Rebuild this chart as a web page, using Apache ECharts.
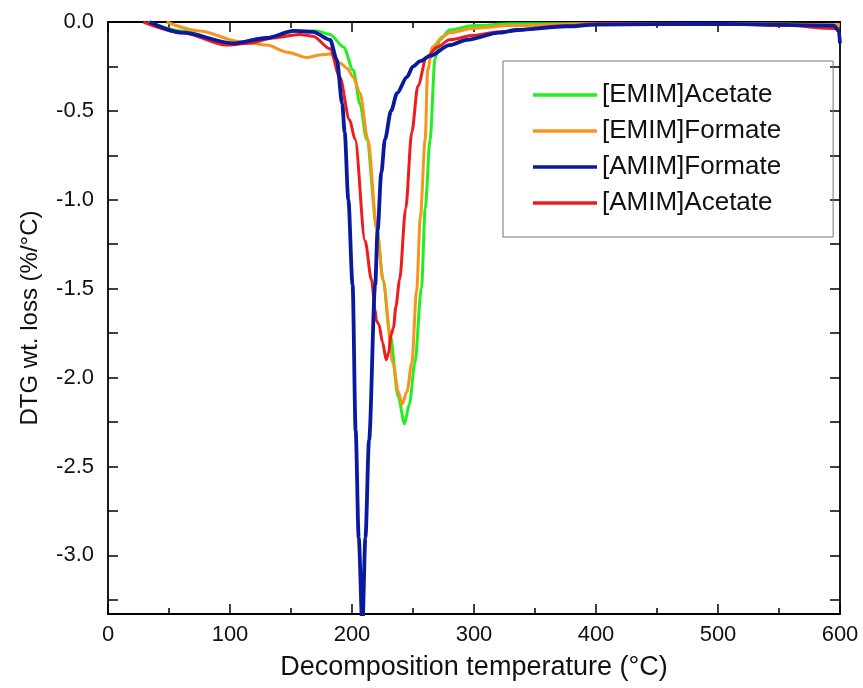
<!DOCTYPE html>
<html lang="en">
<head>
<meta charset="UTF-8">
<title>DTG curves</title>
<script src="https://cdn.jsdelivr.net/npm/echarts@6/dist/echarts.min.js"></script>
<style>
    html, body { margin: 0; padding: 0; background: #fff; }
    #main { width: 863px; height: 688px; }
</style>
</head>
<body>
<div id="main"></div>
<script>
// series names, in legend order
var names = ['[EMIM]Acetate', '[EMIM]Formate', '[AMIM]Formate', '[AMIM]Acetate'];

// [temperature (°C), DTG (%/°C)]
var emimAcetate = [[33,0],[60,-0.05],[100,-0.12],[130,-0.09],[155,-0.05],[171,-0.05],[182,-0.07],[193,-0.14],
    [201,-0.27],[206.5,-0.46],[212,-0.66],[220.5,-1.17],[225.5,-1.45],[231,-1.75],[238,-2.11],[243,-2.26],
    [247,-2.15],[251.5,-1.92],[257,-1.49],[260,-1.05],[264,-0.66],[268,-0.21],[272,-0.10],[280,-0.045],
    [300,-0.02],[330,-0.01],[400,-0.01],[500,-0.01],[590,-0.015],[600,-0.02]];

var emimFormate = [[48,0],[75,-0.05],[108,-0.11],[130,-0.13],[147,-0.17],[163,-0.20],[174,-0.185],[182,-0.18],
    [190,-0.23],[196,-0.26],[201,-0.31],[206.5,-0.40],[213,-0.66],[220.5,-1.17],[225.4,-1.45],[233.6,-1.92],
    [238,-2.08],[241,-2.15],[245,-2.08],[249,-1.92],[253,-1.51],[256,-1.1],[260,-0.66],[262,-0.27],[266,-0.14],
    [275,-0.08],[280,-0.06],[300,-0.035],[330,-0.02],[400,-0.01],[500,-0.01],[600,-0.015]];

var amimFormate = [[34,0],[61,-0.06],[103,-0.12],[130,-0.09],[152,-0.05],[168,-0.055],[182,-0.10],[187.5,-0.21],
    [192,-0.46],[194,-0.62],[197,-1.0],[200.5,-1.48],[203,-2.3],[205.5,-2.9],[208.5,-3.4],[211,-2.9],[214,-2.35],
    [219,-1.48],[221,-1.17],[224,-0.85],[227,-0.66],[232,-0.5],[237,-0.40],[245,-0.31],[250,-0.25],[256,-0.22],
    [264,-0.19],[280,-0.13],[294,-0.10],[321,-0.06],[335,-0.045],[376,-0.025],[400,-0.015],[500,-0.01],
    [595,-0.02],[599,-0.05],[600,-0.12]];

var amimAcetate = [[29,0],[61,-0.06],[97,-0.13],[116,-0.12],[135,-0.09],[157,-0.07],[168,-0.08],[182,-0.15],
    [190,-0.31],[198,-0.55],[202.5,-0.66],[210.7,-1.23],[216,-1.45],[219,-1.62],[220,-1.68],[222,-1.70],
    [225,-1.80],[228,-1.90],[230,-1.86],[232,-1.76],[234,-1.72],[236,-1.6],[239,-1.45],[244,-1.05],[249,-0.62],
    [254,-0.36],[261,-0.20],[270,-0.14],[280,-0.10],[300,-0.075],[321,-0.055],[376,-0.02],[400,-0.01],
    [500,-0.01],[560,-0.02],[590,-0.035],[600,-0.04]];

var colors = ['#22EE22', '#F7941D', '#0A1A9E', '#EE1C1C'];

var font = 'Liberation Sans, Arial, sans-serif';

function yLabel(v) {
    // only every 0.5 gets a label
    if (Math.abs(v * 2 - Math.round(v * 2)) > 1e-6) return '';
    return v.toFixed(1);
}

var myChart = echarts.init(document.getElementById('main'));

function mkSeries(name, data, color, width, z) {
    return {
        name: name,
        type: 'line',
        data: data,
        showSymbol: false,
        symbol: 'none',
        smooth: 0.3,
        smoothMonotone: 'x',
        z: z,
        lineStyle: { color: color, width: width },
        itemStyle: { color: color }
    };
}

var axisLine = { show: true, onZero: false, lineStyle: { color: '#000', width: 1.8 } };
var tick = { show: true, inside: true, length: 10, lineStyle: { color: '#000', width: 1.5 } };

var option = {
    animation: false,
    backgroundColor: '#fff',
    grid: { left: 108, right: 23, top: 22, bottom: 74 },
    legend: {
        orient: 'vertical',
        left: 503,
        top: 61,
        padding: [21, 52, 21, 30],
        icon: 'rect',
        itemWidth: 64,
        itemHeight: 3.5,
        itemGap: 10,
        borderColor: '#777',
        borderWidth: 1,
        textStyle: { fontFamily: font, fontSize: 26, color: '#111', lineHeight: 24 },
        data: names
    },
    xAxis: [
        {
            type: 'value',
            min: 0, max: 600, interval: 100,
            name: 'Decomposition temperature (°C)',
            nameLocation: 'middle',
            nameGap: 40,
            nameTextStyle: { fontFamily: font, fontSize: 27, color: '#111' },
            axisLine: axisLine,
            axisTick: tick,
            minorTick: { show: true, splitNumber: 2, length: 6, lineStyle: { color: '#000', width: 1.5 } },
            splitLine: { show: false },
            axisLabel: { fontFamily: font, fontSize: 22, color: '#111', margin: 10 }
        },
        {
            type: 'value',
            position: 'top',
            min: 0, max: 600, interval: 100,
            axisLine: axisLine,
            axisTick: tick,
            minorTick: { show: true, splitNumber: 2, length: 6, lineStyle: { color: '#000', width: 1.5 } },
            splitLine: { show: false },
            axisLabel: { show: false }
        }
    ],
    yAxis: [
        {
            type: 'value',
            min: -3.33, max: 0,
            splitNumber: 7,
            name: 'DTG wt. loss (%/°C)',
            nameLocation: 'middle',
            nameRotate: 90,
            nameGap: 66,
            nameTextStyle: { fontFamily: font, fontSize: 24, color: '#111' },
            axisLine: axisLine,
            axisTick: tick,
            minorTick: { show: true, splitNumber: 2, length: 10, lineStyle: { color: '#000', width: 1.5 } },
            splitLine: { show: false },
            axisLabel: { fontFamily: font, fontSize: 22, color: '#111', margin: 14, formatter: yLabel }
        },
        {
            type: 'value',
            position: 'right',
            min: -3.33, max: 0,
            splitNumber: 7,
            axisLine: axisLine,
            axisTick: tick,
            minorTick: { show: true, splitNumber: 2, length: 10, lineStyle: { color: '#000', width: 1.5 } },
            splitLine: { show: false },
            axisLabel: { show: false }
        }
    ],
    series: [
        mkSeries(names[0], emimAcetate, colors[0], 3, 2),
        mkSeries(names[1], emimFormate, colors[1], 3, 3),
        mkSeries(names[3], amimAcetate, colors[3], 3, 4),
        mkSeries(names[2], amimFormate, colors[2], 3.8, 5)
    ]
};

myChart.setOption(option);
</script>
</body>
</html>
